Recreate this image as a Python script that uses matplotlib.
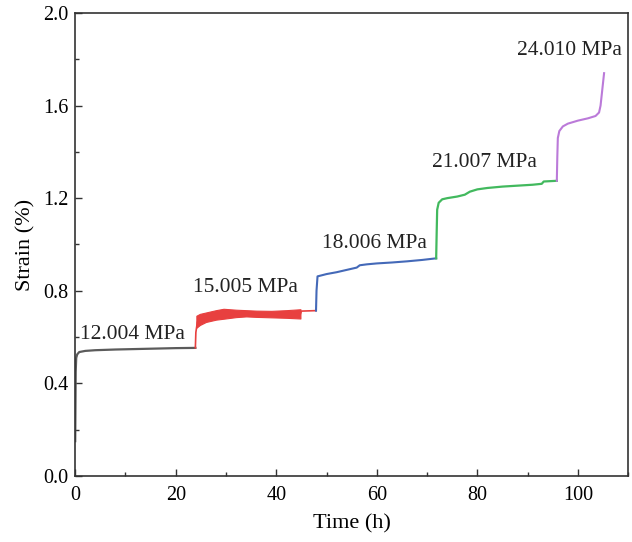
import matplotlib.pyplot as plt
from matplotlib.ticker import MultipleLocator

# stage curves (time in h, strain in %)
gray_t = [0, 0.05, 0.1, 0.2, 0.4, 0.8, 2, 4, 8, 12, 16, 20, 23.9]
gray_y = [0.15, 0.30, 0.45, 0.51, 0.525, 0.535, 0.540, 0.543, 0.546, 0.548, 0.550, 0.552, 0.553]

red_t = [23.9, 24.0, 24.3, 24.8]
red_y = [0.553, 0.62, 0.665, 0.675]
red_band_t = [24.1, 24.8, 26, 28, 29.5, 32, 34, 36, 39, 42, 44.8]
red_band_lo = [0.64, 0.652, 0.665, 0.675, 0.679, 0.686, 0.689, 0.687, 0.685, 0.683, 0.680]
red_band_hi = [0.692, 0.700, 0.706, 0.716, 0.722, 0.718, 0.716, 0.714, 0.713, 0.716, 0.720]
red_tail_t = [44.8, 45.0, 46.5, 47.9]
red_tail_y = [0.700, 0.712, 0.713, 0.714]

blue_t = [47.9, 48.0, 48.2, 50, 52, 54, 56, 56.6, 58, 60, 63, 66, 69, 71.8]
blue_y = [0.714, 0.80, 0.862, 0.872, 0.880, 0.890, 0.900, 0.910, 0.914, 0.918, 0.922, 0.927, 0.933, 0.940]

green_t = [71.8, 71.9, 72.0, 72.3, 73, 74, 76, 77.5, 78.5, 80, 82, 85, 88, 91, 92.8, 93.2, 95.8]
green_y = [0.940, 1.05, 1.15, 1.18, 1.195, 1.200, 1.207, 1.215, 1.228, 1.238, 1.244, 1.250, 1.254, 1.258, 1.262, 1.272, 1.275]

purple_t = [95.8, 95.9, 96.0, 96.3, 97, 98, 100, 102, 103.5, 104.2, 104.5, 104.8, 105.0, 105.2]
purple_y = [1.275, 1.38, 1.46, 1.49, 1.510, 1.522, 1.535, 1.545, 1.555, 1.570, 1.60, 1.66, 1.70, 1.74]

labels = ['12.004 MPa', '15.005 MPa', '18.006 MPa', '21.007 MPa', '24.010 MPa']
label_x = [1.0, 23.4, 49.0, 71.0, 87.9]
label_y = [0.613, 0.812, 1.006, 1.352, 1.836]

plt.rcParams['font.family'] = ['Liberation Serif', 'DejaVu Serif']
plt.rcParams['font.size'] = 14.5

fig = plt.figure(figsize=(6.32, 5.42), dpi=100)
ax = fig.add_axes([0.119, 0.122, 0.875, 0.854])

ax.plot(gray_t, gray_y, color='#5b5b5b', lw=1.6)
ax.plot(red_t, red_y, color='#e8403f', lw=1.2)
ax.fill_between(red_band_t, red_band_lo, red_band_hi, color='#e8403f', lw=0.8, edgecolor='#e8403f')
ax.plot(red_tail_t, red_tail_y, color='#e8403f', lw=1.2)
ax.plot(blue_t, blue_y, color='#4469b8', lw=1.5)
ax.plot(green_t, green_y, color='#42b95e', lw=1.6)
ax.plot(purple_t, purple_y, color='#bb7ad9', lw=1.5)

for s, x, y in zip(labels, label_x, label_y):
    ax.text(x, y, s, fontsize=15.5, color='#222222', va='center')

ax.set_xlim(0, 110)
ax.set_ylim(0, 2.0)
ax.xaxis.set_major_locator(MultipleLocator(20))
ax.xaxis.set_minor_locator(MultipleLocator(10))
ax.yaxis.set_major_locator(MultipleLocator(0.4))
ax.yaxis.set_minor_locator(MultipleLocator(0.2))
ax.set_xticks([0, 20, 40, 60, 80, 100])
ax.yaxis.set_major_formatter(plt.FormatStrFormatter('%.1f'))
ax.tick_params(which='both', direction='in', width=1, color='#333333')
ax.tick_params(axis='x', which='major', length=5, pad=7)
ax.tick_params(axis='y', which='major', length=5, pad=5)
ax.tick_params(which='minor', length=3)
for sp in ax.spines.values():
    sp.set_color('#333333')
    sp.set_linewidth(1.2)

ax.set_xlabel('Time (h)', fontsize=16, labelpad=7)
ax.set_ylabel('Strain (%)', fontsize=16, labelpad=5)

fig.savefig('out.png', dpi=100)
